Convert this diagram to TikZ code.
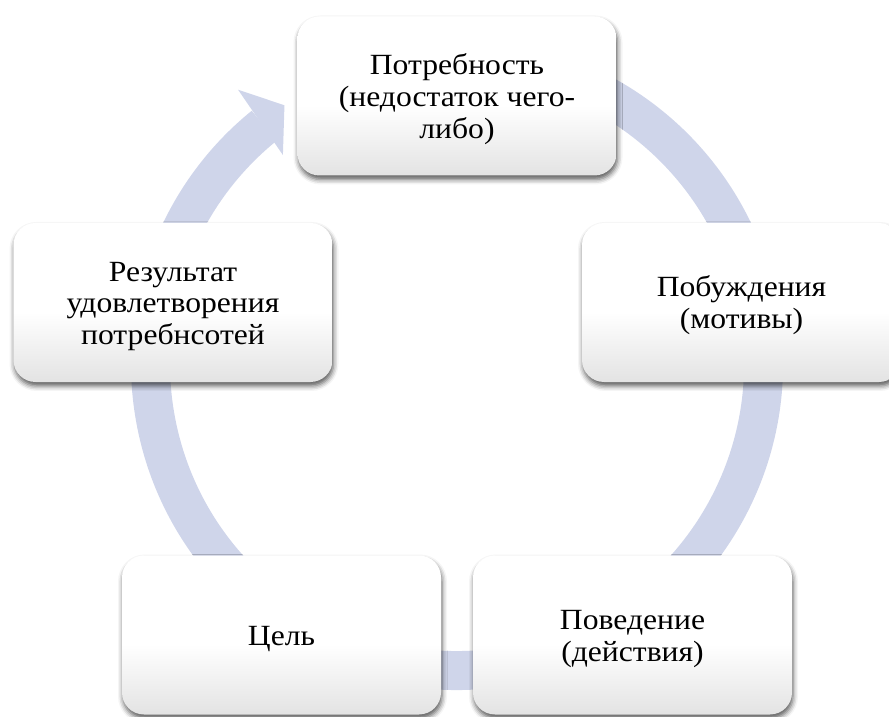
\documentclass[tikz,border=0pt]{standalone}
\usepackage{fontspec}
\setmainfont{Liberation Serif}
\newfontfamily\boxfont[FakeStretch=1.08]{Liberation Serif}
\usetikzlibrary{shadows.blur}
\definecolor{bandcol}{RGB}{207,213,234}
\pgfdeclareverticalshading{boxshade}{100bp}{color(0bp)=(black!11); color(25bp)=(black!11); color(47bp)=(white); color(100bp)=(white)}
\newcommand\bxtext[1]{\raisebox{-4pt}[\height][\depth]{\begin{tabular}{@{}c@{}}#1\end{tabular}}}
\begin{document}
\begin{tikzpicture}[x=1pt,y=1pt,
  box/.style={rounded corners=22pt, minimum width=319pt, minimum height=159pt,
    shade, shading=boxshade, inner sep=0pt,
    font=\boxfont\fontsize{29.3}{31.7}\selectfont,
    blur shadow={shadow xshift=1pt, shadow yshift=-4pt, shadow blur radius=5pt, shadow opacity=65}}]
\useasboundingbox (0,0) rectangle (889,716);
\coordinate (C) at (457,352);
% circular band with arrow head
\draw[bandcol, line width=39pt] ([shift={(100:306.5)}]C) arc[start angle=100, end angle=-231, radius=306.5];
\fill[bandcol] ([shift={(128.6:351)}]C) -- ([shift={(123.7:311)}]C) -- ([shift={(129.8:272)}]C) -- cycle;
% boxes
\node[box] (n1) at (457,620) {\bxtext{Потребность\\(недостаток чего-\\либо)}};
\node[box] (n2) at (741.5,413.5) {\bxtext{Побуждения\\(мотивы)}};
\node[box] (n3) at (632.5,81) {\bxtext{Поведение\\(действия)}};
\node[box] (n4) at (281.5,81) {\bxtext{Цель}};
\node[box] (n5) at (173,413.5) {\bxtext{Результат\\удовлетворения\\потребнсотей}};
\end{tikzpicture}
\end{document}
